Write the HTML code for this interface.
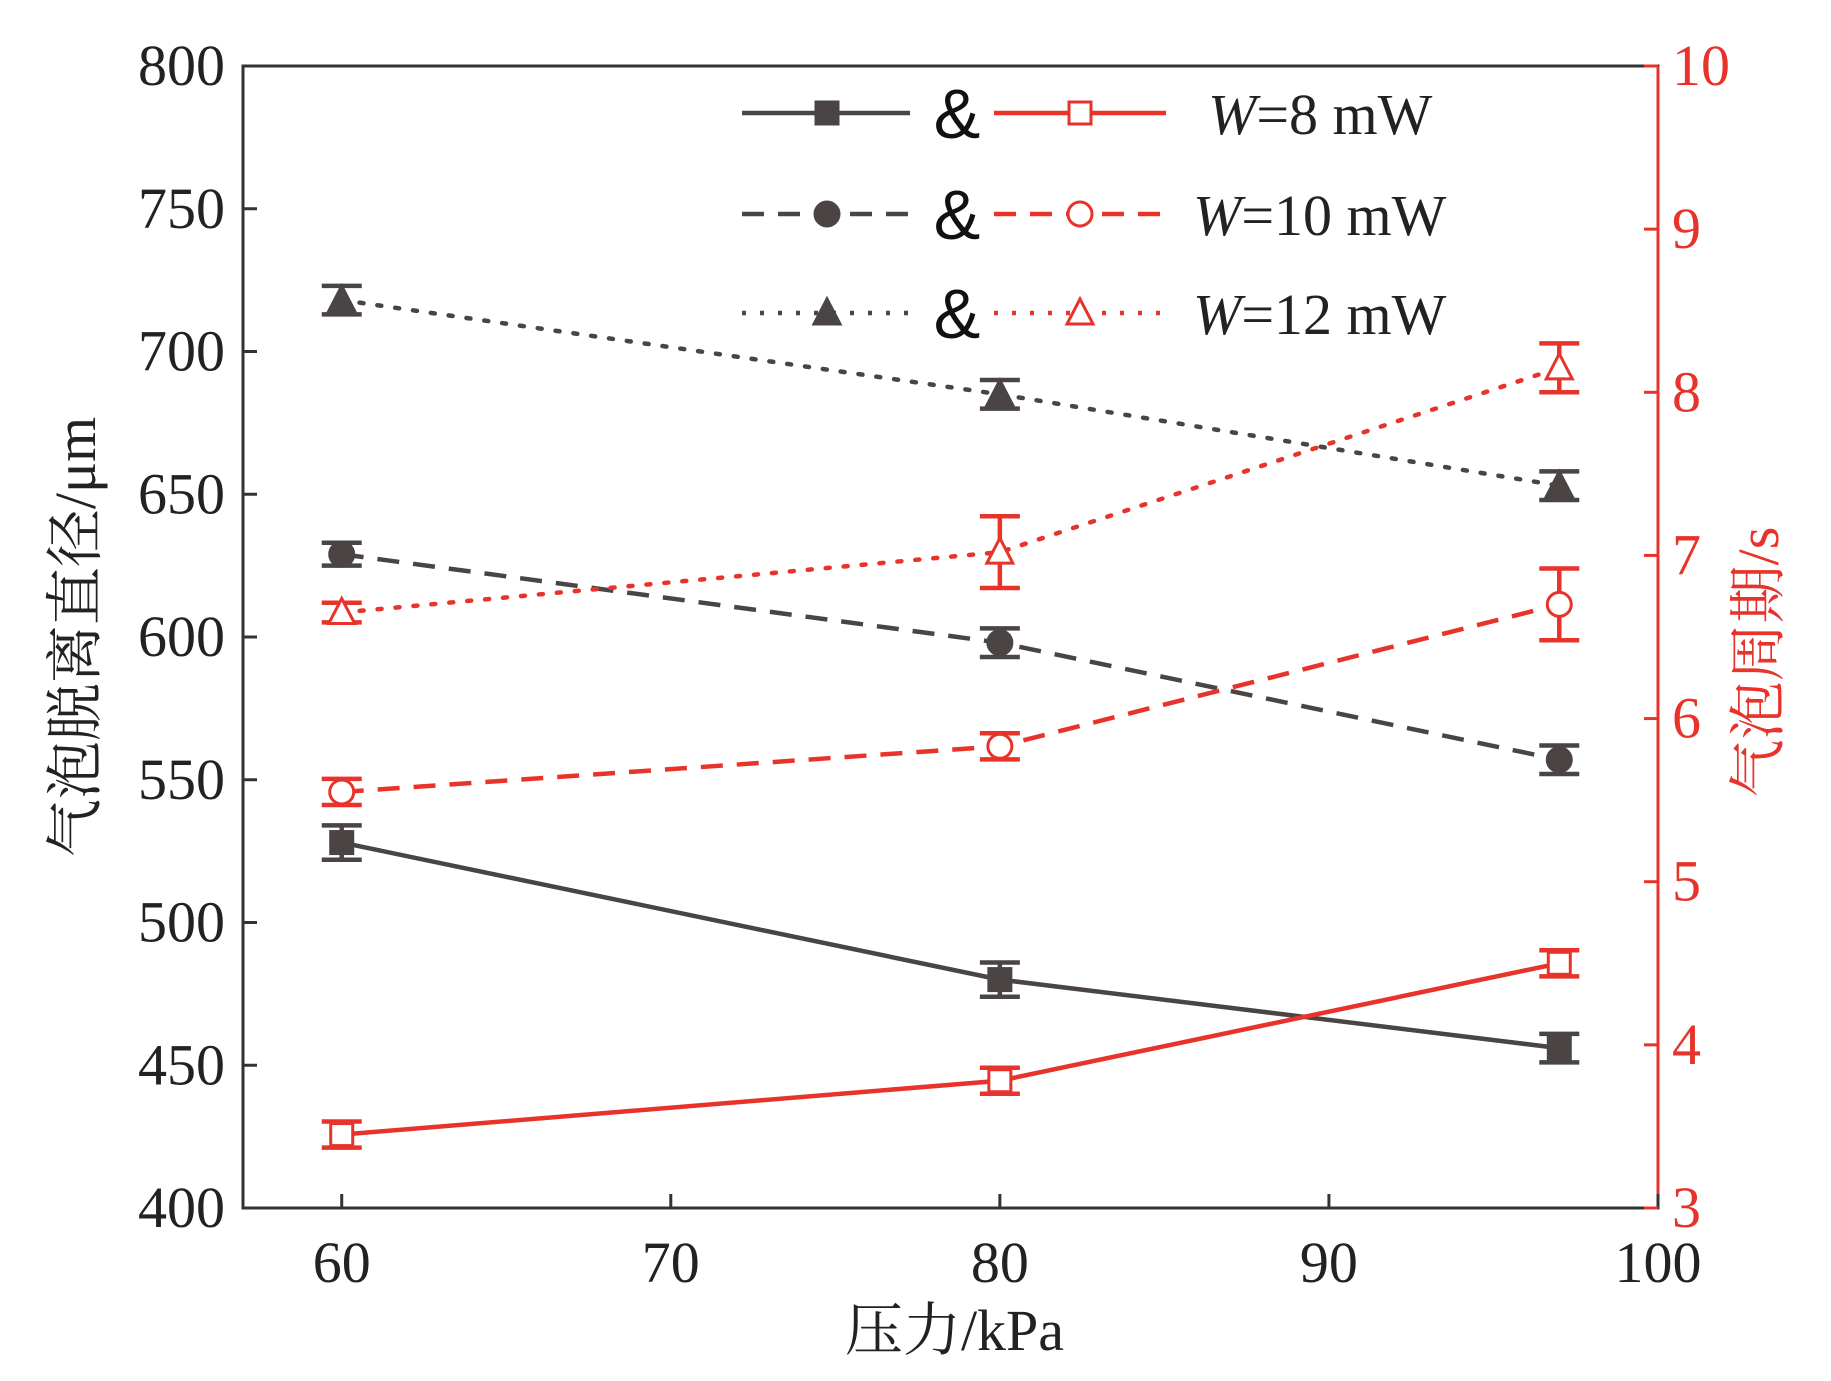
<!DOCTYPE html>
<html><head><meta charset="utf-8"><style>
body{margin:0;background:#fff;}
svg{display:block;font-family:"Liberation Serif","Noto Serif CJK SC",serif;}
</style></head><body>
<svg id="c" width="1831" height="1381" viewBox="0 0 1831 1381"></svg>
<script>
const xVals=[60,80,97];
const seriesNames=["W=8 mW","W=10 mW","W=12 mW"];
const diam8=[528,480,456], diam10=[629,598,557], diam12=[718,685,653];
const diamErr8=[6,6,5], diamErr10=[4,5,5], diamErr12=[5,5,5];
const per8=[3.45,3.78,4.5], per10=[5.55,5.83,6.7], per12=[6.65,7.02,8.15];
const perErr8=[0.08,0.08,0.08], perErr10=[0.08,0.08,0.22], perErr12=[0.06,0.22,0.15];
const xTicks=[60,70,80,90,100], yTicks=[400,450,500,550,600,650,700,750,800], y2Ticks=[3,4,5,6,7,8,9,10];

const L=243,R=1658,T=66,B=1208;
const X=v=>L+(v-57)/(100-57)*(R-L);
const Y=v=>B-(v-400)/400*(B-T);
const Y2=v=>B-(v-3)/7*(B-T);
const svg=document.getElementById('c');const NS='http://www.w3.org/2000/svg';
function mk(t,a,p){const e=document.createElementNS(NS,t);for(const k in a)e.setAttribute(k,a[k]);(p||svg).appendChild(e);return e;}
const DK='#4a4444',RD='#e8332b';
mk('rect',{x:L,y:T,width:R-L,height:B-T,fill:'none',stroke:'#333','stroke-width':3});
mk('line',{x1:R,y1:T,x2:R,y2:B,stroke:RD,'stroke-width':3});
xTicks.forEach(v=>{mk('line',{x1:X(v),y1:B,x2:X(v),y2:B-14,stroke:'#333','stroke-width':3});
 const t=mk('text',{x:X(v),y:B+74,'text-anchor':'middle','font-size':58,fill:'#222'});t.textContent=v;
 });
yTicks.forEach(v=>{mk('line',{x1:L,y1:Y(v),x2:L+14,y2:Y(v),stroke:'#333','stroke-width':3});
 const t=mk('text',{x:L-18,y:Y(v)+19,'text-anchor':'end','font-size':58,fill:'#222'});t.textContent=v;
 });
y2Ticks.forEach(v=>{mk('line',{x1:R,y1:Y2(v),x2:R-14,y2:Y2(v),stroke:RD,'stroke-width':3});
 const t=mk('text',{x:R+14,y:Y2(v)+19,'font-size':58,fill:RD});t.textContent=v;
 });
let t=mk('text',{x:(L+R)/2+4,y:1350,'text-anchor':'middle','font-size':58,fill:'#222'});t.textContent='压力/kPa';

t=mk('text',{x:0,y:0,transform:`translate(95,${(T+B)/2}) rotate(-90)`,'text-anchor':'middle','font-size':58,fill:'#222'});t.textContent='气泡脱离直径/μm';

t=mk('text',{x:0,y:0,transform:`translate(1778,${(T+B)/2+25}) rotate(-90)`,'text-anchor':'middle','font-size':58,fill:RD});t.textContent='气泡周期/s';


const dashes=['none','22,14','4,14'];
function marker(shape,x,y,col,filled,name){
 let e;const f=filled?col:'#fff';
 if(shape===0)e=mk('rect',{x:x-11,y:y-11,width:22,height:22,fill:f,stroke:col,'stroke-width':3});
 else if(shape===1)e=mk('circle',{cx:x,cy:y,r:12,fill:f,stroke:col,'stroke-width':3});
 else e=mk('polygon',{points:`${x},${y-14} ${x-13},${y+11} ${x+13},${y+11}`,fill:f,stroke:col,'stroke-width':3});
 
}
function series(vals,errs,yf,col,filled,i,name){
 const pts=xVals.map((x,k)=>X(x)+','+yf(vals[k])).join(' ');
 const pl=mk('polyline',{points:pts,fill:'none',stroke:col,'stroke-width':4.5,'stroke-dasharray':dashes[i],'stroke-linecap':i==2?'round':'butt'});
 
 xVals.forEach((x,k)=>{const cx=X(x),a=yf(vals[k]+errs[k]),b=yf(vals[k]-errs[k]);
  const g=mk('g',{stroke:col,'stroke-width':4.5});
  
  mk('line',{x1:cx,y1:a,x2:cx,y2:b},g);mk('line',{x1:cx-20,y1:a,x2:cx+20,y2:a},g);mk('line',{x1:cx-20,y1:b,x2:cx+20,y2:b},g);
  marker(i,cx,yf(vals[k]),col,filled,name+'-point');});
}
series(diam8,diamErr8,Y,DK,true,0,'diameter-8mw');
series(diam10,diamErr10,Y,DK,true,1,'diameter-10mw');
series(diam12,diamErr12,Y,DK,true,2,'diameter-12mw');
series(per8,perErr8,Y2,RD,false,0,'period-8mw');
series(per10,perErr10,Y2,RD,false,1,'period-10mw');
series(per12,perErr12,Y2,RD,false,2,'period-12mw');

const ly=[113,214,313];
seriesNames.forEach((n,i)=>{const y=ly[i];
 const g=mk('g',{});
 mk('line',{x1:742,y1:y,x2:910,y2:y,stroke:DK,'stroke-width':4.5,'stroke-dasharray':dashes[i]},g);
 marker(i,827,y,DK,true,'legend-marker');
 let a=mk('text',{x:957,y:y+25,'text-anchor':'middle','font-size':70,'font-family':'Liberation Sans, sans-serif',fill:'#111'},g);a.textContent='&';
 mk('line',{x1:994,y1:y,x2:1166,y2:y,stroke:RD,'stroke-width':4.5,'stroke-dasharray':dashes[i]},g);
 marker(i,1080,y,RD,false,'legend-marker');
 const tx=mk('text',{x:i==0?1208:1193,y:y+21,'font-size':58,fill:'#222'},g);
 tx.innerHTML='<tspan font-style="italic">W</tspan>'+n.slice(1);
});
</script>
</body></html>
